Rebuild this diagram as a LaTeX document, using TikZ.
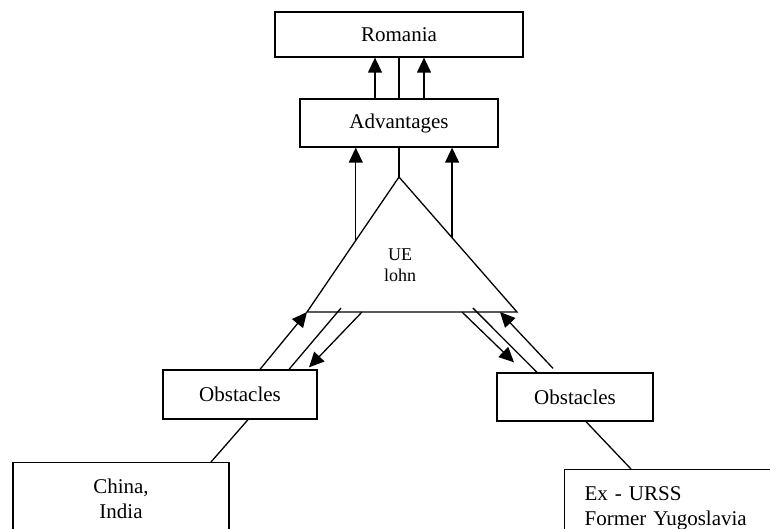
\documentclass[tikz,border=0pt]{standalone}
\usepackage{fontspec}
\setmainfont{Liberation Serif}
\usetikzlibrary{arrows.meta,calc}

\begin{document}
\begin{tikzpicture}[%
    x=1pt, y=-1pt,                           % one unit per pixel, going down
    >={Triangle[length=15pt,width=14pt]},    % big filled heads
    line width=1.3pt
    ]
% -------------------------------------------------
% Box styles
\tikzset{
  base/.style={draw, inner sep=0pt, font={\fontsize{21}{25}\selectfont}},
  box/.style={base, rectangle, align=center},
  land/.style={base, rectangle, anchor=north},
  small/.style={font={\fontsize{18}{21}\selectfont}, align=center},
  link/.style={->, draw},
  tie/.style={-, draw}
}
\useasboundingbox (0,0) rectangle (770,529);
\clip (0,0) rectangle (770,529);
% -------------------------------------------------
% Top boxes
\node [box, minimum width=248pt, minimum height=45pt] (romania) at (399,34.5) {Romania};
\node [box, minimum width=198pt, minimum height=48pt] (adv) at (399,123) {Advantages};

% the triangle
\coordinate (apex) at (399,177);
\coordinate (bl) at (307,312);
\coordinate (br) at (517,312);
\draw (apex) -- (bl) -- (br) -- cycle;
\node [small] (ue) at (400,265) {UE\\lohn};

% Middle boxes
\node [box, minimum width=154pt, minimum height=49pt] (obsL) at (240,394.5) {Obstacles};
\node [box, minimum width=156pt, minimum height=48pt] (obsR) at (575,397) {Obstacles};

% Bottom boxes, cut by the page edge
\node [land, align=center, minimum width=216pt, minimum height=73pt] (china) at (121,462) {China,\\India};
\node [land, anchor=north west, align=left, text width=200pt, inner xsep=20pt,
  minimum height=78pt] (exurss) at (564,469) {Ex - URSS\\Former Yugoslavia};

% -------------------------------------------------
% Advantages up to Romania
\draw [link] ([xshift=-24pt]adv.north) -- ([xshift=-24pt]romania.south);
\draw [tie] (adv.north) -- (romania.south);
\draw [link] ([xshift=25pt]adv.north) -- ([xshift=25pt]romania.south);

% triangle up to Advantages
\coordinate (tl) at ($(apex)!0.47!(bl)$);
\coordinate (tr) at ($(apex)!0.45!(br)$);
\draw [tie] (adv.south) -- (apex);
\draw [link] (tl) -- (tl |- adv.south);
\draw [link] (tr) -- (tr |- adv.south);

% -------------------------------------------------
% left Obstacles and the triangle
\draw [link] ([xshift=20pt]obsL.north) -- (bl);
\draw [tie] ([xshift=49pt]obsL.north) -- ($(bl)!0.162!(br)+(0,-4)$);
\draw [link] ($(bl)!0.262!(br)$) -- ([shift={(69pt,2pt)}]obsL.north);

% right Obstacles and the triangle
\draw [link] ($(bl)!0.738!(br)$) -- ([shift={(-61pt,10pt)}]obsR.north);
\draw [tie] ($(bl)!0.79!(br)+(0,-4)$) -- ([xshift=-38pt]obsR.north);
\draw [link] ([shift={(-22pt,4pt)}]obsR.north) -- ($(bl)!0.919!(br)$);

% -------------------------------------------------
% Obstacles down to the countries
\draw [tie] ([xshift=8pt]obsL.south) -- ([xshift=90pt]china.north);
\draw [tie] ([xshift=11pt]obsR.south) -- ([xshift=67pt]exurss.north west);
\end{tikzpicture}
\end{document}
